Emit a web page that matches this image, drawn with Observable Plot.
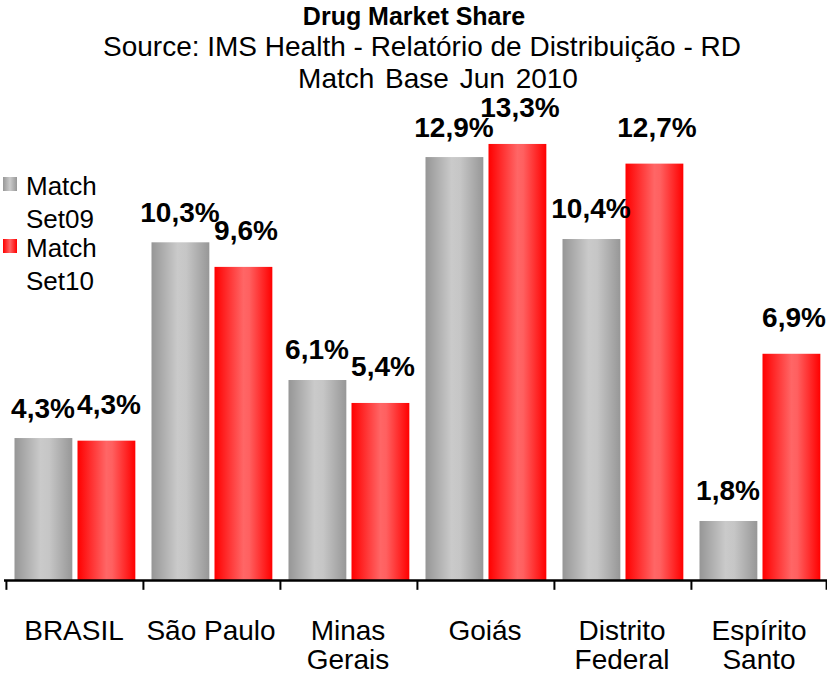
<!DOCTYPE html>
<html><head><meta charset="utf-8">
<script src="https://cdn.jsdelivr.net/npm/d3@7"></script>
<script src="https://cdn.jsdelivr.net/npm/@observablehq/plot@0.6"></script>
<style>
body{margin:0;background:#fff;font-family:"Liberation Sans",Arial,sans-serif;}
#wrap{position:relative;width:827px;height:677px;overflow:hidden;background:#fff}
#wrap svg{position:absolute;left:0;top:0}
.t{position:absolute;white-space:nowrap;transform:translateX(-50%);color:#000}
.lg{position:absolute;white-space:nowrap;color:#000;font-size:26px;line-height:26px}
.sw{position:absolute;width:14px;height:14px}
</style></head><body>
<div id="wrap">
  <div class="t" style="left:414px;top:4px;font-size:25px;line-height:25px;font-weight:bold">Drug Market Share</div>
  <div class="t" style="left:422px;top:33px;font-size:28px;line-height:28px">Source: IMS Health - Relatório de Distribuição - RD</div>
  <div class="t" style="left:438px;top:65px;font-size:28px;line-height:28px;word-spacing:3px">Match Base Jun 2010</div>
  <div class="sw" style="left:3px;top:177px;background:linear-gradient(to right,#979797,#cbcbcb 50%,#979797)"></div>
  <div class="lg" style="left:26px;top:173px">Match</div>
  <div class="lg" style="left:26px;top:206px">Set09</div>
  <div class="sw" style="left:3px;top:239px;background:linear-gradient(to right,#ff0000,#ff6666 50%,#ff0000)"></div>
  <div class="lg" style="left:26px;top:235px">Match</div>
  <div class="lg" style="left:26px;top:268px">Set10</div>
</div>
<script>
const categories = ["BRASIL", "São Paulo", "Minas Gerais", "Goiás", "Distrito Federal", "Espírito Santo"];
const tickLabels = ["BRASIL", "São Paulo", "Minas\nGerais", "Goiás", "Distrito\nFederal", "Espírito\nSanto"];
const set09 = [4.33, 10.3, 6.1, 12.9, 10.4, 1.8];
const set10 = [4.25, 9.55, 5.4, 13.3, 12.7, 6.9];
const labels09 = ["4,3%", "10,3%", "6,1%", "12,9%", "10,4%", "1,8%"];
const labels10 = ["4,3%", "9,6%", "5,4%", "13,3%", "12,7%", "6,9%"];

const W = 827, H = 677, ml = 4, mr = 0, mt = 121, mb = 97;
const step = (W - ml - mr) / categories.length;
const rows = categories.map((c, i) => ({cat: c, v09: set09[i], v10: set10[i], l09: labels09[i], l10: labels10[i]}));
const font = "Liberation Sans, Arial, sans-serif";

const plot = Plot.plot({
  width: W, height: H,
  marginLeft: ml, marginRight: mr, marginTop: mt, marginBottom: mb,
  style: {fontFamily: font, background: "transparent", overflow: "visible", color: "black"},
  x: {domain: categories, padding: 0, label: null},
  y: {domain: [0, 14], axis: null},
  marks: [
    Plot.barY(rows, {x: "cat", y: "v09", fill: "url(#g09)", insetLeft: 9.5, insetRight: step - 67.5}),
    Plot.barY(rows, {x: "cat", y: "v10", fill: "url(#g10)", insetLeft: 72.5, insetRight: step - 130.5}),
    Plot.ruleY([0], {stroke: "black", strokeWidth: 2.5}),
    Plot.ruleX(categories, {x: d => d, y1: 0, y2: -0.3, dx: -step / 2 + 1, stroke: "black", strokeWidth: 2}),
    Plot.ruleX([categories[categories.length - 1]], {x: d => d, y1: 0, y2: -0.3, dx: step / 2 - 1, stroke: "black", strokeWidth: 2}),
    Plot.text(rows, {x: "cat", y: "v09", text: "l09", dx: -31, dy: -30, fontSize: 28, fontWeight: "bold", fill: "black"}),
    Plot.text(rows, {x: "cat", y: "v10", text: "l10", dx: 35, dy: -36, fontSize: 28, fontWeight: "bold", fill: "black"}),
    Plot.axisX({tickSize: 0, tickPadding: 39, fontSize: 28, lineHeight: 1.04, fill: "black", label: null,
      tickFormat: d => tickLabels[categories.indexOf(d)]})
  ]
});

const defs = d3.select(plot).insert("defs", ":first-child");
const g1 = defs.append("linearGradient").attr("id", "g09").attr("x1", 0).attr("x2", 1).attr("y1", 0).attr("y2", 0);
[[0, "#969696"], [0.45, "#cacaca"], [0.6, "#c6c6c6"], [1, "#979797"]].forEach(([o, c]) => g1.append("stop").attr("offset", o).attr("stop-color", c));
const g2 = defs.append("linearGradient").attr("id", "g10").attr("x1", 0).attr("x2", 1).attr("y1", 0).attr("y2", 0);
[[0, "#ff0000"], [0.5, "#ff6666"], [0.6, "#ff6060"], [1, "#ff0000"]].forEach(([o, c]) => g2.append("stop").attr("offset", o).attr("stop-color", c));

document.getElementById("wrap").prepend(plot);
</script>
</body></html>
